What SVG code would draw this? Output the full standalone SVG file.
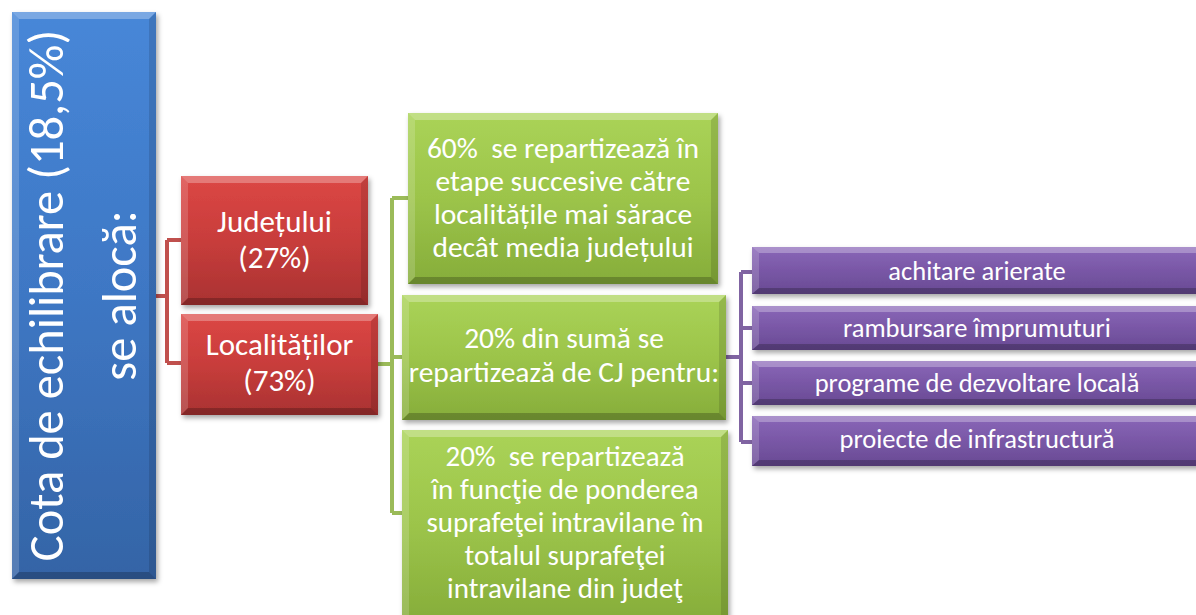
<svg xmlns="http://www.w3.org/2000/svg" width="1196" height="615" viewBox="0 0 1196 615">
<defs>
<linearGradient id="gBlue" x1="0" y1="0" x2="0" y2="1"><stop offset="0" stop-color="#4787d8"/><stop offset="0.5" stop-color="#3e77c4"/><stop offset="1" stop-color="#3464a6"/></linearGradient>
<linearGradient id="gRed" x1="0" y1="0" x2="0" y2="1"><stop offset="0" stop-color="#dc4745"/><stop offset="0.5" stop-color="#c83d3b"/><stop offset="1" stop-color="#a93232"/></linearGradient>
<linearGradient id="gGreen" x1="0" y1="0" x2="0" y2="1"><stop offset="0" stop-color="#aad357"/><stop offset="0.5" stop-color="#9cc44a"/><stop offset="1" stop-color="#86ad3a"/></linearGradient>
<linearGradient id="gPurple" x1="0" y1="0" x2="0" y2="1"><stop offset="0" stop-color="#8a67b8"/><stop offset="0.5" stop-color="#7957a6"/><stop offset="1" stop-color="#684a93"/></linearGradient>
<filter id="sh" x="-10%" y="-10%" width="130%" height="130%"><feDropShadow dx="2" dy="3" stdDeviation="2.5" flood-color="#000" flood-opacity="0.35"/></filter>
</defs>
<style>
.c{fill:none;stroke-width:4;stroke-linejoin:round}
.cr{stroke:#c0504d}.cg{stroke:#9bbb59}.cp{stroke:#8064a2}
.hl{fill:#fff;fill-opacity:0.28}
.hl2{fill:#fff;fill-opacity:0.16}
.dk{fill:#000;fill-opacity:0.22}
.dk2{fill:#000;fill-opacity:0.12}
text{font-family:Carlito,Lato,"Open Sans",sans-serif;fill:#fff;text-anchor:middle}
.t29{font-size:29.5px}
.t28{font-size:29px}
.t30{font-size:31px}
.t26{font-size:26.5px}
.t50{font-size:48.5px}
</style>
<g id="connectors">
<path class="c cr" d="M156,296 H167 M167,240 V363 M167,240 H181 M167,363 H181"/>
<path class="c cg" d="M378,364 H392 M392,198 V513 M392,198 H408 M392,357 H402 M392,513 H402"/>
<path class="c cp" d="M726,357 H741 M741,272 V442 M741,272 H752 M741,328 H752 M741,383 H752 M741,442 H752"/>
</g>
<g id="n-root">
<rect x="12" y="12" width="144" height="567" fill="url(#gBlue)" filter="url(#sh)"/>
<polygon class="hl" points="12,12 156,12 149,19 19,19"/>
<polygon class="hl2" points="12,12 19,19 19,572 12,579"/>
<polygon class="dk" points="12,579 19,572 149,572 156,579"/>
<polygon class="dk2" points="156,12 156,579 149,572 149,19"/>
<text class="t50" transform="translate(63,295.5) rotate(-90)">Cota de echilibrare (18,5%)</text>
<text class="t50" transform="translate(136,295.5) rotate(-90)">se alocă:</text>
</g>
<g id="n-judet">
<rect x="181" y="176" width="187" height="129" fill="url(#gRed)" filter="url(#sh)"/>
<polygon class="hl" points="181,176 368,176 361,183 188,183"/>
<polygon class="hl2" points="181,176 188,183 188,298 181,305"/>
<polygon class="dk" points="181,305 188,298 361,298 368,305"/>
<polygon class="dk2" points="368,176 368,305 361,298 361,183"/>
<text class="t30" x="274.5" y="232">Județului</text>
<text class="t30" x="274.5" y="268">(27%)</text>
</g>
<g id="n-local">
<rect x="181" y="314" width="197" height="101" fill="url(#gRed)" filter="url(#sh)"/>
<polygon class="hl" points="181,314 378,314 371,321 188,321"/>
<polygon class="hl2" points="181,314 188,321 188,408 181,415"/>
<polygon class="dk" points="181,415 188,408 371,408 378,415"/>
<polygon class="dk2" points="378,314 378,415 371,408 371,321"/>
<text class="t30" x="279.5" y="355">Localităților</text>
<text class="t30" x="279.5" y="391">(73%)</text>
</g>
<g id="n-g60">
<rect x="408" y="113" width="310" height="171" fill="url(#gGreen)" filter="url(#sh)"/>
<polygon class="hl" points="408,113 718,113 711,120 415,120"/>
<polygon class="hl2" points="408,113 415,120 415,277 408,284"/>
<polygon class="dk" points="408,284 415,277 711,277 718,284"/>
<polygon class="dk2" points="718,113 718,284 711,277 711,120"/>
<text class="t29" x="563" y="158" xml:space="preserve">60%  se repartizează în</text>
<text class="t29" x="563" y="191">etape succesive către</text>
<text class="t29" x="563" y="224">localitățile mai sărace</text>
<text class="t29" x="563" y="257">decât media județului</text>
</g>
<g id="n-g20a">
<rect x="402" y="295" width="324" height="125" fill="url(#gGreen)" filter="url(#sh)"/>
<polygon class="hl" points="402,295 726,295 719,302 409,302"/>
<polygon class="hl2" points="402,295 409,302 409,413 402,420"/>
<polygon class="dk" points="402,420 409,413 719,413 726,420"/>
<polygon class="dk2" points="726,295 726,420 719,413 719,302"/>
<text class="t29" x="564" y="348">20% din sumă se</text>
<text class="t29" x="564" y="382">repartizează de CJ pentru:</text>
</g>
<g id="n-g20b">
<rect x="402" y="430" width="326" height="192" fill="url(#gGreen)" filter="url(#sh)"/>
<polygon class="hl" points="402,430 728,430 721,437 409,437"/>
<polygon class="hl2" points="402,430 409,437 409,622 402,622"/>
<polygon class="dk2" points="728,430 728,622 721,622 721,437"/>
<text class="t28" x="565" y="466" xml:space="preserve">20%  se repartizează</text>
<text class="t28" x="565" y="499">în funcţie de ponderea</text>
<text class="t28" x="565" y="532">suprafeţei intravilane în</text>
<text class="t28" x="565" y="565">totalul suprafeţei</text>
<text class="t28" x="565" y="598">intravilane din judeţ</text>
</g>
<g id="n-p1">
<rect x="752" y="247" width="452" height="47" fill="url(#gPurple)" filter="url(#sh)"/>
<polygon class="hl" points="752,247 1204,247 1197,253 759,253"/>
<polygon class="hl2" points="752,247 759,253 759,288 752,294"/>
<polygon class="dk" points="752,294 759,288 1197,288 1204,294"/>
<text class="t26" x="977" y="280">achitare arierate</text>
</g>
<g id="n-p2">
<rect x="752" y="306" width="452" height="44" fill="url(#gPurple)" filter="url(#sh)"/>
<polygon class="hl" points="752,306 1204,306 1197,312 759,312"/>
<polygon class="hl2" points="752,306 759,312 759,344 752,350"/>
<polygon class="dk" points="752,350 759,344 1197,344 1204,350"/>
<text class="t26" x="977" y="337">rambursare împrumuturi</text>
</g>
<g id="n-p3">
<rect x="752" y="361" width="452" height="44" fill="url(#gPurple)" filter="url(#sh)"/>
<polygon class="hl" points="752,361 1204,361 1197,367 759,367"/>
<polygon class="hl2" points="752,361 759,367 759,399 752,405"/>
<polygon class="dk" points="752,405 759,399 1197,399 1204,405"/>
<text class="t26" x="977" y="392">programe de dezvoltare locală</text>
</g>
<g id="n-p4">
<rect x="752" y="416" width="452" height="50" fill="url(#gPurple)" filter="url(#sh)"/>
<polygon class="hl" points="752,416 1204,416 1197,422 759,422"/>
<polygon class="hl2" points="752,416 759,422 759,460 752,466"/>
<polygon class="dk" points="752,466 759,460 1197,460 1204,466"/>
<text class="t26" x="977" y="448">proiecte de infrastructură</text>
</g>
</svg>
